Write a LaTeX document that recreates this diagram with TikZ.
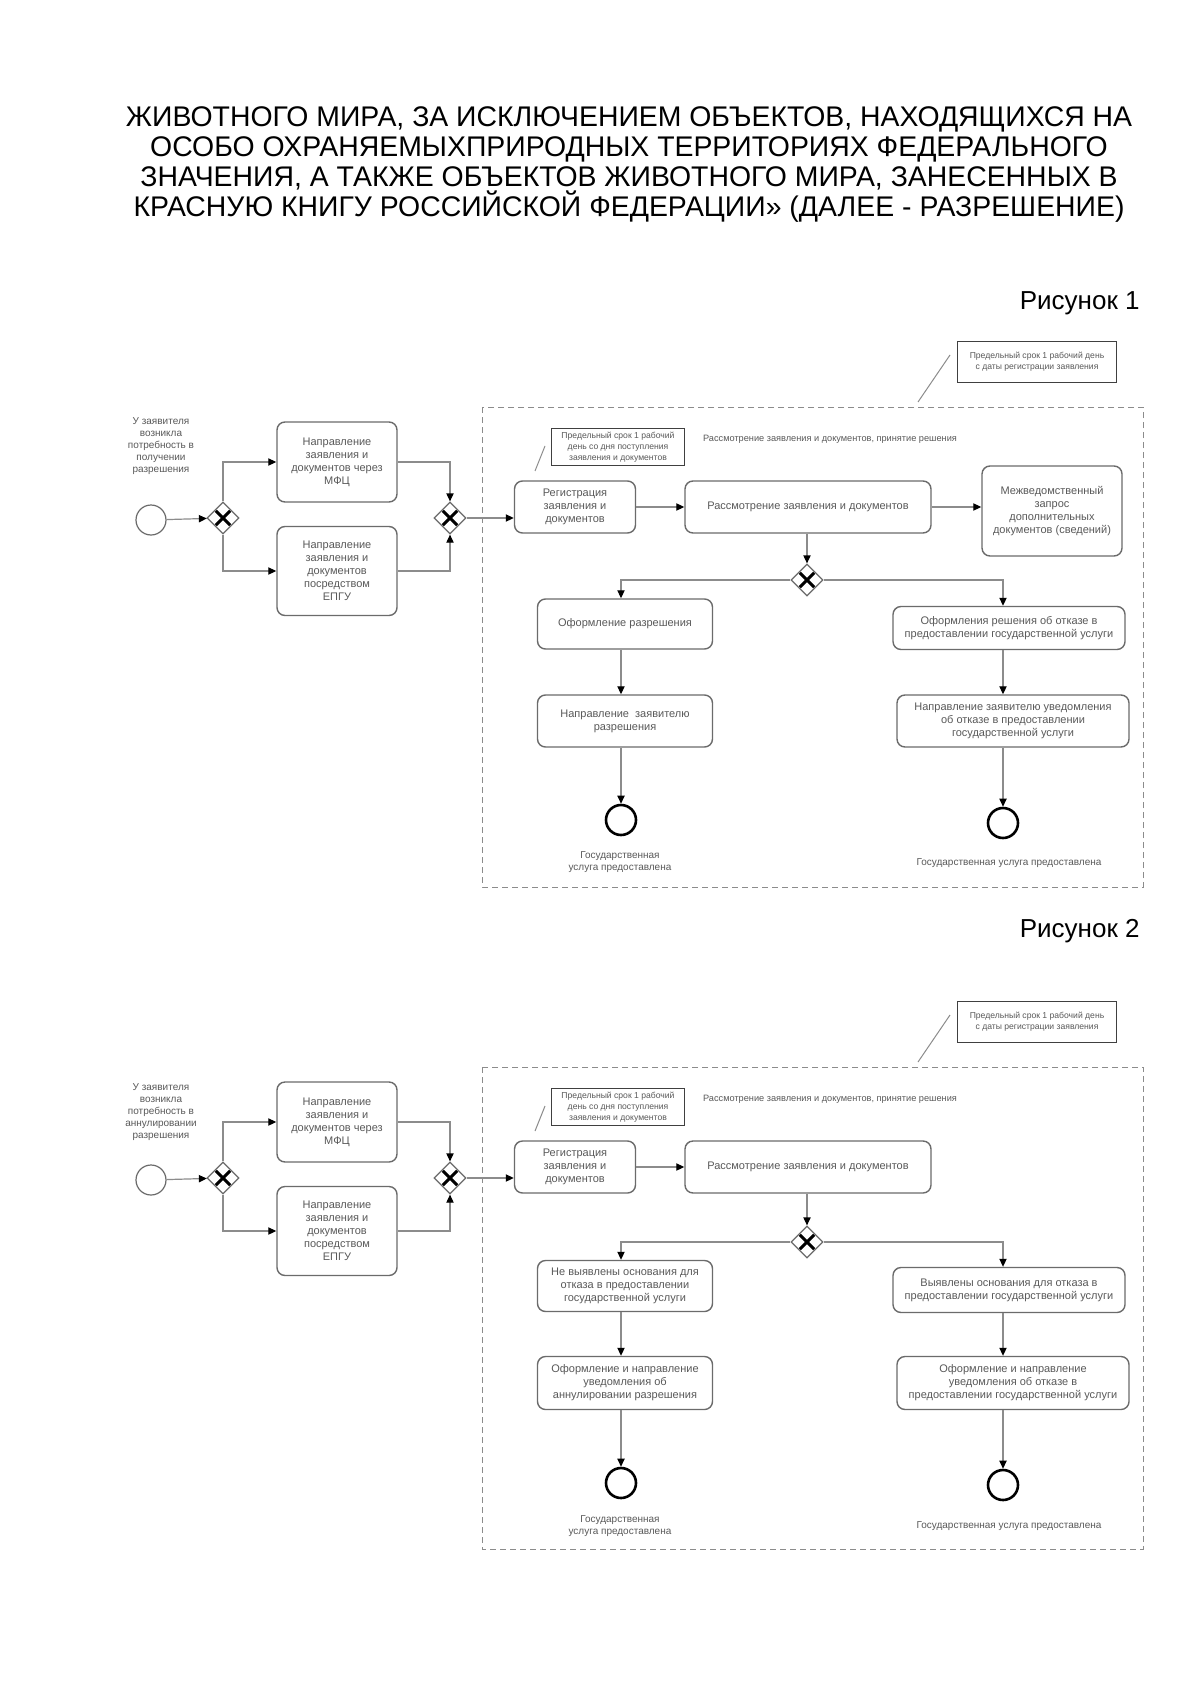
\documentclass[tikz,border=0pt]{standalone}
\usepackage{fontspec}
\setmainfont{Liberation Sans}
\usetikzlibrary{shapes.geometric,arrows.meta}
\definecolor{boxgray}{gray}{0.42}
\definecolor{txtgray}{gray}{0.35}
\definecolor{linegray}{gray}{0.55}
\tikzset{
  task/.style={draw=boxgray, line width=0.7pt, rounded corners=4pt, text=txtgray,
    font=\fontsize{5.5}{6.5}\selectfont, align=center, inner sep=1pt},
  notebox/.style={draw=black!75, line width=0.7pt, text=txtgray,
    font=\fontsize{4.3}{5.5}\selectfont, align=center, inner sep=1pt},
  lbl/.style={text=txtgray, font=\fontsize{5}{5.9}\selectfont, align=center, inner sep=0pt},
  flow/.style={draw=linegray, line width=0.6pt, -{Triangle[length=4pt,width=3.6pt,color=black]}},
  annot/.style={draw=linegray, line width=0.5pt},
  gate/.style={diamond, draw=boxgray, line width=0.6pt, fill=white, minimum width=16pt,
    minimum height=16pt, inner sep=0pt,
    path picture={\draw[black, line width=1.5pt]
      ([shift={(-3.6pt,-3.6pt)}]path picture bounding box.center) -- ([shift={(3.6pt,3.6pt)}]path picture bounding box.center)
      ([shift={(-3.6pt,3.6pt)}]path picture bounding box.center) -- ([shift={(3.6pt,-3.6pt)}]path picture bounding box.center);}},
  startev/.style={circle, draw=boxgray, line width=0.6pt, minimum size=15pt, inner sep=0pt},
  endev/.style={circle, draw=black, line width=1.3pt, minimum size=15pt, inner sep=0pt},
  pool/.style={draw=linegray, line width=0.5pt, dash pattern=on 3pt off 2pt},
  bigtext/.style={font=\fontsize{14.2}{15}\selectfont, align=center, inner sep=0pt},
  figtext/.style={font=\fontsize{13}{15}\selectfont, inner sep=0pt}
}
\begin{document}
\begin{tikzpicture}[x=0.5pt, y=-0.5pt]
\useasboundingbox[fill=white] (0,0) rectangle (1200,1696);

\node[bigtext] (title) at (629,165) {ЖИВОТНОГО МИРА, ЗА ИСКЛЮЧЕНИЕМ ОБЪЕКТОВ, НАХОДЯЩИХСЯ НА\\ОСОБО ОХРАНЯЕМЫХПРИРОДНЫХ ТЕРРИТОРИЯХ ФЕДЕРАЛЬНОГО\\ЗНАЧЕНИЯ, А ТАКЖЕ ОБЪЕКТОВ ЖИВОТНОГО МИРА, ЗАНЕСЕННЫХ В\\КРАСНУЮ КНИГУ РОССИЙСКОЙ ФЕДЕРАЦИИ» (ДАЛЕЕ - РАЗРЕШЕНИЕ)};

\node[figtext, anchor=east] (fig1) at (1140,303) {Рисунок 1};
\node[figtext, anchor=east] (fig2) at (1140,931) {Рисунок 2};

% ---------------- Figure 1 ----------------
\draw[pool] (482,407) rectangle (1143,887);
\node[notebox, minimum width=79.5pt, minimum height=20.5pt] (noteA) at (1037,362) {Предельный срок 1 рабочий день\\с даты регистрации заявления};
\coordinate (nA1) at (950,355);
\coordinate (nA2) at (918,402);
\draw[annot] (nA1) -- (nA2);
\node[notebox, minimum width=66.5pt, minimum height=18.5pt] (noteB) at (618,447) {Предельный срок 1 рабочий\\день со дня поступления\\заявления и документов};
\coordinate (nB1) at (545,446);
\coordinate (nB2) at (535,471);
\draw[annot] (nB1) -- (nB2);
\node[lbl, font=\fontsize{4.6}{5.5}\selectfont] (poolA) at (830,439) {Рассмотрение заявления и документов, принятие решения};

\node[startev] (start) at (151,520) {};
\node[lbl] (startlbl) at (161,446) {У заявителя\\возникла\\потребность в\\получении\\разрешения};
\node[gate] (g1) at (223,518) {};
\node[task, minimum width=60pt, minimum height=40pt] (mfc) at (337,462) {Направление\\заявления и\\документов через\\МФЦ};
\node[task, minimum width=60pt, minimum height=44.5pt] (epgu) at (337,571) {Направление\\заявления и\\документов\\посредством\\ЕПГУ};
\node[gate] (g2) at (450,518) {};
\node[task, minimum width=60.5pt, minimum height=26pt] (reg) at (575,507) {Регистрация\\заявления и\\документов};
\node[task, minimum width=123pt, minimum height=26pt] (rev) at (808,507) {Рассмотрение заявления и документов};
\node[task, minimum width=70pt, minimum height=45pt] (inter) at (1052,511) {Межведомственный\\запрос\\дополнительных\\документов (сведений)};
\node[gate] (g3) at (807,580) {};
\node[task, minimum width=87.5pt, minimum height=25pt] (ok1) at (625,624) {Оформление разрешения};
\node[task, minimum width=116pt, minimum height=21.5pt] (no1) at (1009,628) {Оформления решения об отказе в\\предоставлении государственной услуги};
\node[task, minimum width=87.5pt, minimum height=26pt] (ok2) at (625,721) {Направление \ заявителю\\разрешения};
\node[task, minimum width=116pt, minimum height=26pt] (no2) at (1013,721) {Направление заявителю уведомления\\об отказе в предоставлении\\государственной услуги};
\node[endev] (end1) at (621,820) {};
\node[endev] (end2) at (1003,823) {};
\node[lbl] (end1lbl) at (620,862) {Государственная\\услуга предоставлена};
\node[lbl] (end2lbl) at (1009,863) {Государственная услуга предоставлена};
\coordinate (xl) at (621,0);
\coordinate (xr) at (1003,0);

\draw[flow] (start) -- (g1);
\draw[flow] (g1.north) |- (mfc.west);
\draw[flow] (g1.south) |- (epgu.west);
\draw[flow] (mfc.east) -| (g2.north);
\draw[flow] (epgu.east) -| (g2.south);
\draw[flow] (g2.east) -- (reg.west |- g2.east);
\draw[flow] (reg.east) -- (rev.west);
\draw[flow] (rev.east) -- (rev.east -| inter.west);
\draw[flow] (rev.south -| g3.north) -- (g3.north);
\draw[flow] (g3.west) -| (ok1.north -| xl);
\draw[flow] (g3.east) -| (no1.north -| xr);
\draw[flow] (ok1.south -| xl) -- (ok2.north -| xl);
\draw[flow] (no1.south -| xr) -- (no2.north -| xr);
\draw[flow] (ok2.south -| xl) -- (end1.north);
\draw[flow] (no2.south -| xr) -- (end2.north);

% ---------------- Figure 2 ----------------
\begin{scope}[shift={(0,660)}]
\draw[pool] (482,407) rectangle (1143,889);
\node[notebox, minimum width=79.5pt, minimum height=20.5pt] (noteAb) at (1037,362) {Предельный срок 1 рабочий день\\с даты регистрации заявления};
\coordinate (nA1b) at (950,355);
\coordinate (nA2b) at (918,402);
\draw[annot] (nA1b) -- (nA2b);
\node[notebox, minimum width=66.5pt, minimum height=18.5pt] (noteBb) at (618,447) {Предельный срок 1 рабочий\\день со дня поступления\\заявления и документов};
\coordinate (nB1b) at (545,446);
\coordinate (nB2b) at (535,471);
\draw[annot] (nB1b) -- (nB2b);
\node[lbl, font=\fontsize{4.6}{5.5}\selectfont] (poolAb) at (830,439) {Рассмотрение заявления и документов, принятие решения};

\node[startev] (startb) at (151,520) {};
\node[lbl] (startlblb) at (161,452) {У заявителя\\возникла\\потребность в\\аннулировании\\разрешения};
\node[gate] (g1b) at (223,518) {};
\node[task, minimum width=60pt, minimum height=40pt] (mfcb) at (337,462) {Направление\\заявления и\\документов через\\МФЦ};
\node[task, minimum width=60pt, minimum height=44.5pt] (epgub) at (337,571) {Направление\\заявления и\\документов\\посредством\\ЕПГУ};
\node[gate] (g2b) at (450,518) {};
\node[task, minimum width=60.5pt, minimum height=26pt] (regb) at (575,507) {Регистрация\\заявления и\\документов};
\node[task, minimum width=123pt, minimum height=26pt] (revb) at (808,507) {Рассмотрение заявления и документов};
\node[gate] (g3b) at (807,582) {};
\node[task, minimum width=87.5pt, minimum height=25.5pt] (ok1b) at (625,626) {Не выявлены основания для\\отказа в предоставлении\\государственной услуги};
\node[task, minimum width=116pt, minimum height=22.5pt] (no1b) at (1009,630) {Выявлены основания для отказа в\\предоставлении государственной услуги};
\node[task, minimum width=87.5pt, minimum height=26.5pt] (ok2b) at (625,723) {Оформление и направление\\уведомления об\\аннулировании разрешения};
\node[task, minimum width=116pt, minimum height=26.5pt] (no2b) at (1013,723) {Оформление и направление\\уведомления об отказе в\\предоставлении государственной услуги};
\node[endev] (end1b) at (621,823) {};
\node[endev] (end2b) at (1003,825) {};
\node[lbl] (end1lblb) at (620,866) {Государственная\\услуга предоставлена};
\node[lbl] (end2lblb) at (1009,866) {Государственная услуга предоставлена};
\coordinate (xlb) at (621,0);
\coordinate (xrb) at (1003,0);

\draw[flow] (startb) -- (g1b);
\draw[flow] (g1b.north) |- (mfcb.west);
\draw[flow] (g1b.south) |- (epgub.west);
\draw[flow] (mfcb.east) -| (g2b.north);
\draw[flow] (epgub.east) -| (g2b.south);
\draw[flow] (g2b.east) -- (regb.west |- g2b.east);
\draw[flow] (regb.east) -- (revb.west);
\draw[flow] (revb.south -| g3b.north) -- (g3b.north);
\draw[flow] (g3b.west) -| (ok1b.north -| xlb);
\draw[flow] (g3b.east) -| (no1b.north -| xrb);
\draw[flow] (ok1b.south -| xlb) -- (ok2b.north -| xlb);
\draw[flow] (no1b.south -| xrb) -- (no2b.north -| xrb);
\draw[flow] (ok2b.south -| xlb) -- (end1b.north);
\draw[flow] (no2b.south -| xrb) -- (end2b.north);
\end{scope}
\end{tikzpicture}
\end{document}
